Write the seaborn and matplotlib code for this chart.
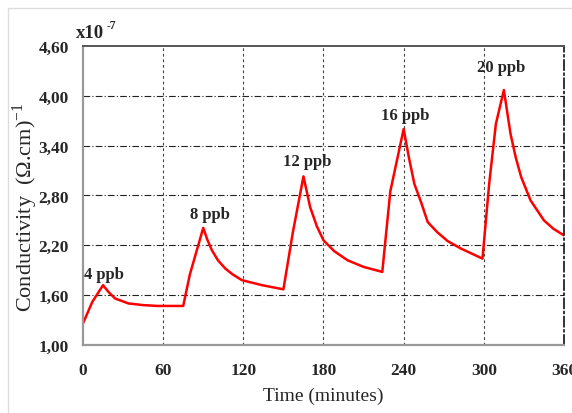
import numpy as np
import pandas as pd
import matplotlib
matplotlib.use("Agg")
import matplotlib.pyplot as plt
from matplotlib.lines import Line2D
import seaborn as sns

# data
time_min = [0, 7, 15, 19, 24, 34, 45, 56, 75, 80, 90, 93, 96.5, 101, 106.5, 112, 119, 134, 150,
            157, 165, 170, 175, 180, 188, 198, 210, 224, 230, 240, 244, 248, 253, 258, 265, 273,
            283, 299, 304, 309, 315, 320, 324, 328, 335, 345, 352, 360]
conductivity = [1.26, 1.52, 1.72, 1.64, 1.56, 1.50, 1.48, 1.47, 1.47, 1.85, 2.41, 2.27, 2.14, 2.02,
                1.92, 1.85, 1.78, 1.72, 1.67, 2.35, 3.03, 2.66, 2.43, 2.26, 2.13, 2.02, 1.94, 1.88,
                2.85, 3.60, 3.25, 2.94, 2.72, 2.48, 2.36, 2.25, 2.16, 2.04, 2.94, 3.66, 4.07, 3.54,
                3.25, 3.02, 2.74, 2.50, 2.40, 2.32]
peak_labels = ["4 ppb", "8 ppb", "12 ppb", "16 ppb", "20 ppb"]
peak_label_x = [16, 95, 168, 241, 313]
peak_label_y = [1.85, 2.58, 3.22, 3.77, 4.35]
x_ticks = [0, 60, 120, 180, 240, 300, 360]
y_ticks = [1.0, 1.6, 2.2, 2.8, 3.4, 4.0, 4.6]

df = pd.DataFrame({"Time": time_min, "Conductivity": conductivity})

sns.set_style("white")
plt.rcParams['font.family'] = ['Liberation Serif', 'DejaVu Serif']
plt.rcParams['mathtext.fontset'] = 'custom'
plt.rcParams['mathtext.rm'] = 'Liberation Serif'

fig = plt.figure(figsize=(5.72, 4.14), dpi=100)
ax = fig.add_axes([0.1451, 0.1643, 0.8409, 0.7222])

sns.lineplot(data=df, x="Time", y="Conductivity", color="#ff0000", lw=1.8, ax=ax)

ax.set_xlim(0, 360)
ax.set_ylim(1.0, 4.6)
ax.set_xticks(x_ticks)
ax.set_yticks(y_ticks)
ax.set_xticklabels([str(v) for v in x_ticks], fontsize=12.5, fontweight="bold")
ax.set_yticklabels([f"{v:.2f}".replace(".", ",") for v in y_ticks], fontsize=12.5, fontweight="bold")
ax.tick_params(axis="x", length=0, pad=12)
ax.tick_params(axis="y", length=3, direction="in", pad=10, color="#333333")

# grid
for v in y_ticks[1:-1]:
    ax.axhline(v, color="#222222", lw=0.8, ls=(0, (6, 2, 1, 2)), zorder=0)
for v in x_ticks[1:-1]:
    ax.axvline(v, color="#444444", lw=0.8, ls=(0, (2.5, 2.5)), zorder=0)

ax.spines["left"].set_color("#999999")
ax.spines["bottom"].set_color("#999999")
ax.spines["left"].set_linewidth(1.6)
ax.spines["bottom"].set_linewidth(1.6)
ax.spines["top"].set_color("#555555")
ax.spines["top"].set_linestyle((0, (2, 1)))
ax.spines["top"].set_linewidth(1.4)
ax.spines["right"].set_color("#111111")
ax.spines["right"].set_linestyle((0, (6, 2, 1, 2)))
ax.spines["right"].set_linewidth(1.2)

ax.set_xlabel("Time (minutes)", fontsize=14)
ax.xaxis.set_label_coords((323 - 83) / 481, -(388 - 346) / 299)
ax.set_ylabel("Conductivity  (\u03a9.cm)$^{-1}$", fontsize=16)
ax.yaxis.set_label_coords((25 - 83) / 481, (346 - 207) / 299)
ax.yaxis.label.set_va("center")

for lab, lx, ly in zip(peak_labels, peak_label_x, peak_label_y):
    ax.text(lx, ly, lab, ha="center", va="center", fontsize=12, fontweight="bold")

fig.text(76 / 572, 1 - 34 / 414, "x10", fontsize=13.5, fontweight="bold", va="center")
fig.text(107 / 572, 1 - 26 / 414, "-7", fontsize=8.5, fontweight="bold", va="center")

# light frame around the figure
fig.add_artist(Line2D([8 / 572, 8 / 572], [0, 1 - 9 / 414], color="#dddddd", lw=1))
fig.add_artist(Line2D([8 / 572, 1], [1 - 9 / 414, 1 - 9 / 414], color="#dddddd", lw=1))

fig.savefig("out.png", dpi=100)
